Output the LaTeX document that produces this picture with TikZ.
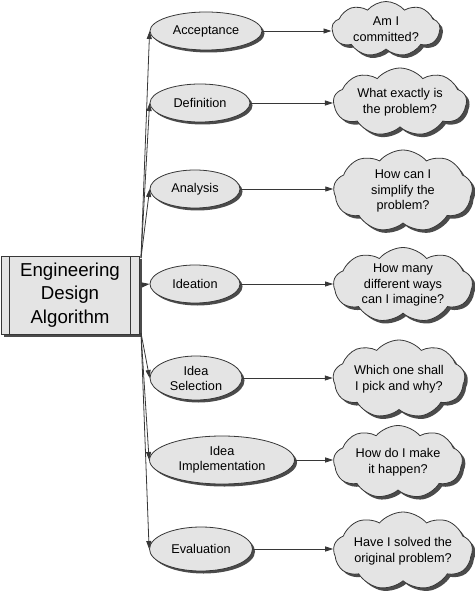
\documentclass[tikz,border=0pt]{standalone}
\usepackage{fontspec}
\setmainfont{Liberation Sans}
\usetikzlibrary{shapes.geometric,shapes.symbols,shadows,arrows.meta}
\definecolor{shapefill}{RGB}{228,228,228}
\definecolor{edgecol}{RGB}{55,55,55}
\definecolor{shadowcol}{RGB}{75,75,75}
\tikzset{
  shd/.style={drop shadow={shadow xshift=2.5pt,shadow yshift=-2.5pt,fill=shadowcol,opacity=1}},
  stage/.style={ellipse,draw=edgecol,line width=0.8pt,fill=shapefill,shd,inner sep=0pt,align=center,
     font=\fontsize{12.7}{15}\selectfont},
  thought/.style={cloud,cloud puffs=9,cloud puff arc=100,cloud ignores aspect,draw=edgecol,line width=0.8pt,
     fill=shapefill,drop shadow={shadow xshift=3pt,shadow yshift=-3pt,fill=shadowcol,opacity=1},
     inner sep=0pt,align=center,font=\fontsize{12.7}{15.5}\selectfont},
  mainbox/.style={rectangle,draw=edgecol,line width=0.8pt,fill=shapefill,shd,align=center,
     font=\fontsize{18.7}{23.5}\selectfont,minimum width=138pt,minimum height=78pt,
     path picture={\draw[edgecol,line width=0.8pt]
        ([xshift=8pt]path picture bounding box.north west) -- ([xshift=8pt]path picture bounding box.south west)
        ([xshift=-9pt]path picture bounding box.north east) -- ([xshift=-9pt]path picture bounding box.south east);}},
  link/.style={draw=edgecol,line width=0.8pt,-{Triangle[length=8pt,width=5pt]}},
}
\begin{document}
\begin{tikzpicture}[x=1pt,y=-1pt]
\useasboundingbox (0,0) rectangle (474,593);
% main box
\node[mainbox] (main) at (70,295) {Engineering\\Design\\Algorithm};
\coordinate (up) at (141,258);
\coordinate (mid) at (141,285);
\coordinate (down) at (141,333);
% stages
\node[stage,minimum width=112pt,minimum height=38pt] (s1) at (206,31) {Acceptance};
\node[stage,minimum width=100pt,minimum height=38pt] (s2) at (200,103) {Definition};
\node[stage,minimum width=90pt,minimum height=38pt] (s3) at (195,189) {Analysis};
\node[stage,minimum width=90pt,minimum height=38pt] (s4) at (195,284) {Ideation};
\node[stage,minimum width=92pt,minimum height=44pt] (s5) at (196,378) {Idea\\Selection};
\node[stage,minimum width=145pt,minimum height=48pt] (s6) at (222,460) {Idea\\Implementation};
\node[stage,minimum width=103pt,minimum height=44pt] (s7) at (201,549) {Evaluation};
% clouds
\node[thought,minimum width=108pt,minimum height=55pt] (c1) at (386,29) {Am I\\committed?};
\node[thought,minimum width=133pt,minimum height=68pt] (c2) at (400,102) {What exactly is\\the problem?};
\node[thought,minimum width=139pt,minimum height=82pt] (c3) at (403,191) {How can I\\simplify the\\problem?};
\node[thought,minimum width=139pt,minimum height=75pt] (c4) at (403,285) {How many\\different ways\\can I imagine?};
\node[thought,minimum width=132pt,minimum height=78pt] (c5) at (399,379) {Which one shall\\I pick and why?};
\node[thought,minimum width=129pt,minimum height=73pt] (c6) at (398,462) {How do I make\\it happen?};
\node[thought,minimum width=139pt,minimum height=78pt] (c7) at (403,551) {Have I solved the\\original problem?};
% connectors box -> stages
\draw[link] (up) -- (s1.west);
\draw[link] (up) -- (s2.west);
\draw[link] (up) -- (s3.west);
\draw[link] (mid) -- (s4.west);
\draw[link] (down) -- (s5.west);
\draw[link] (down) -- (s6.west);
\draw[link] (down) -- (s7.west);
% stages -> clouds
\foreach \i in {1,...,7}{\draw[link] (s\i.east) -- (s\i.east -| c\i.west);}
\end{tikzpicture}
\end{document}
